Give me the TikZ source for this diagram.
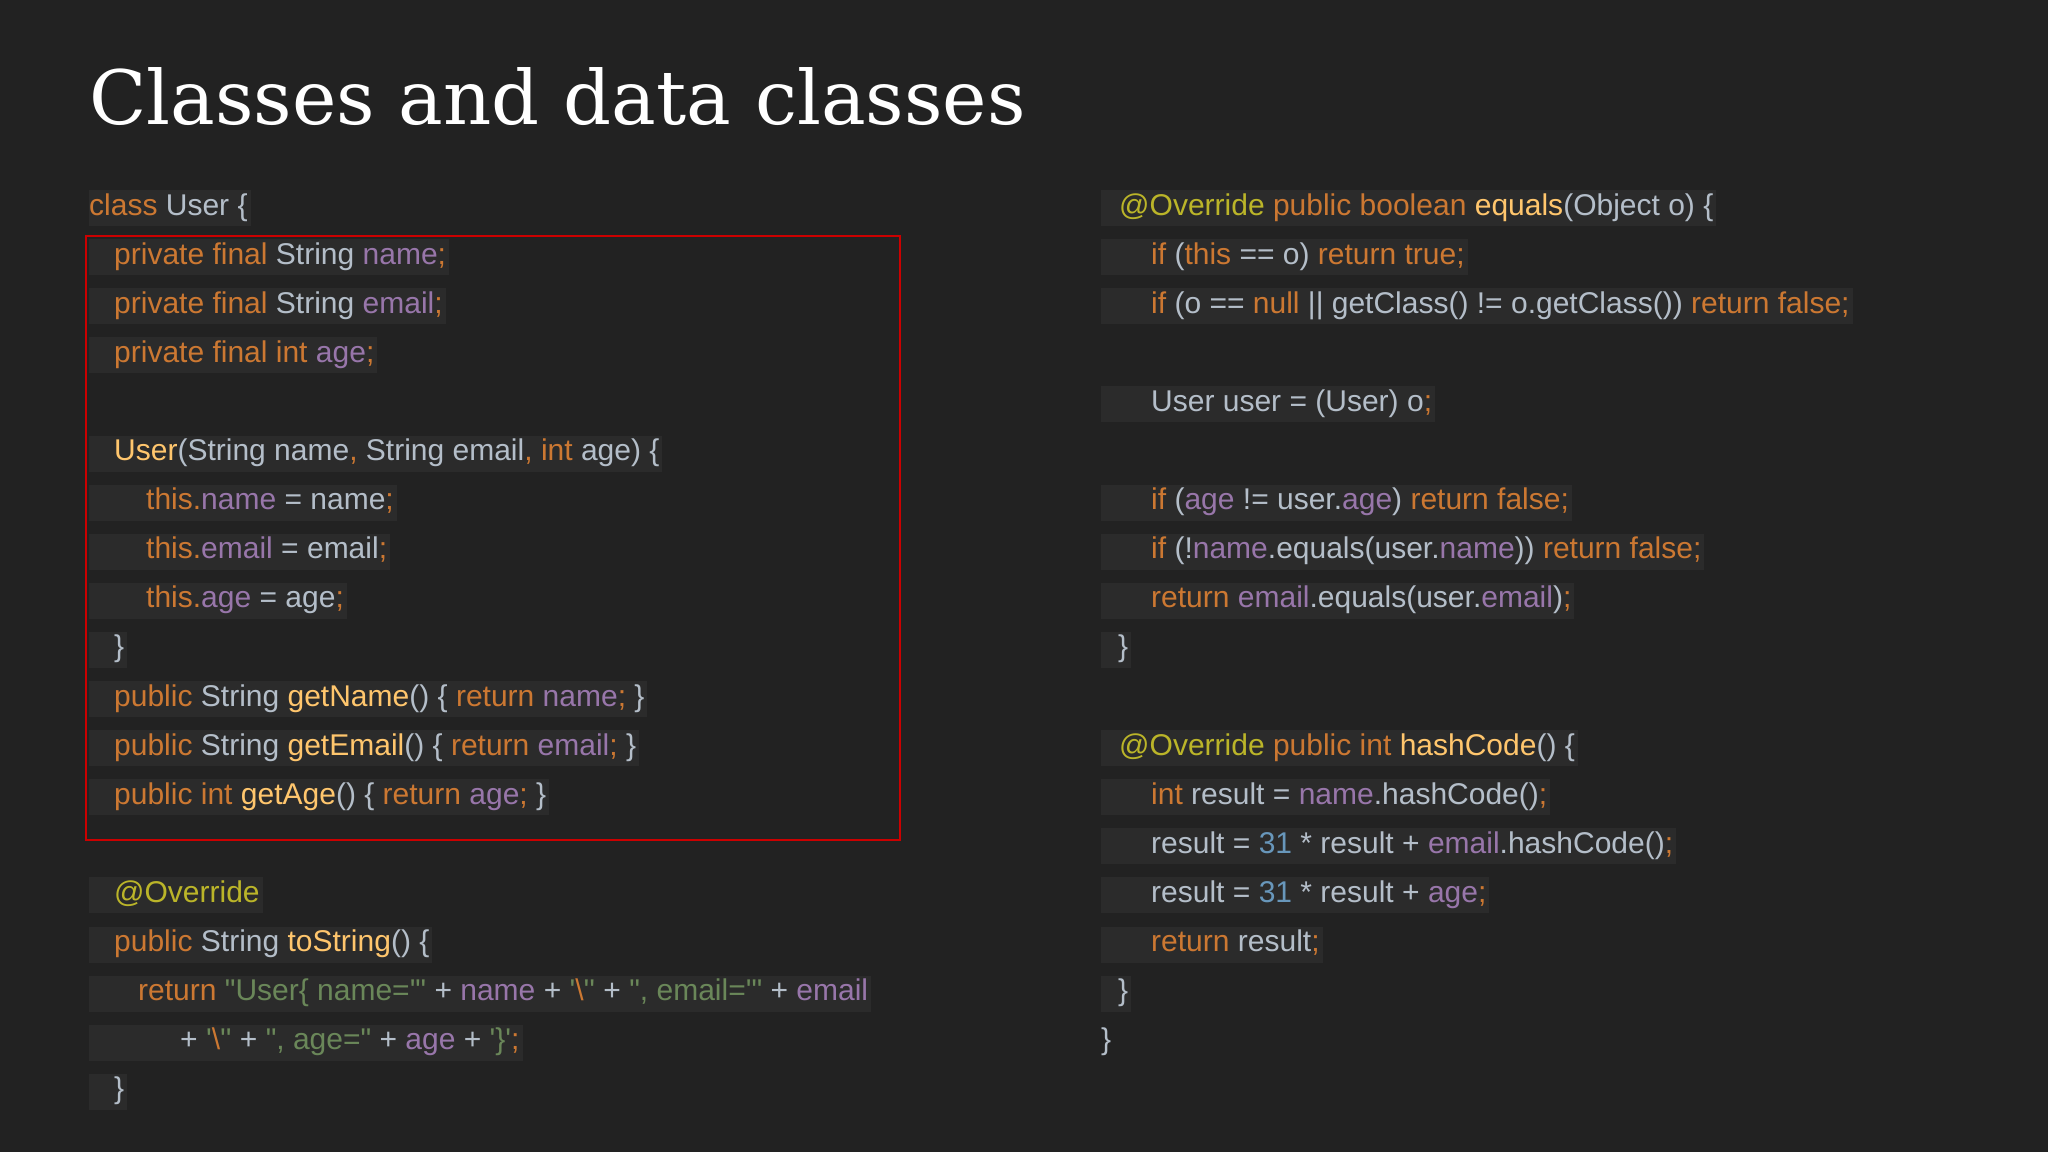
\documentclass[tikz,border=0pt]{standalone}
\usepackage{fontspec}
\newfontfamily\codefont{Liberation Sans}
\newfontfamily\titlefont{DejaVu Serif}
\definecolor{bgc}{HTML}{222222}
\definecolor{linebg}{HTML}{2B2B2B}
\definecolor{ckw}{HTML}{CC7832}
\definecolor{cpu}{HTML}{9876AA}
\definecolor{cpl}{HTML}{B4BEC9}
\definecolor{cfn}{HTML}{FFC66D}
\definecolor{can}{HTML}{BBB529}
\definecolor{cst}{HTML}{6A8759}
\definecolor{cnu}{HTML}{6897BB}
\newcommand\K[1]{\textcolor{ckw}{#1}}
\newcommand\Pu[1]{\textcolor{cpu}{#1}}
\newcommand\N[1]{\textcolor{cpl}{#1}}
\newcommand\F[1]{\textcolor{cfn}{#1}}
\newcommand\A[1]{\textcolor{can}{#1}}
\newcommand\Sg[1]{\textcolor{cst}{#1}}
\newcommand\B[1]{\textcolor{cnu}{#1}}
\newcommand\codeline[5]{\node[cl] (#1) at (#2,{208+49.1*#3}) {\hspace*{#4pt}#5\hspace*{3pt}};}
\tikzset{cl/.style={anchor=west,fill=linebg,inner sep=0pt,text height=25pt,text depth=11pt,
  font=\codefont\fontsize{30}{30}\selectfont,text=cpl}}
\begin{document}
\begin{tikzpicture}[x=1pt,y=-1pt]
\fill[bgc] (0,0) rectangle (2048,1152);
\useasboundingbox (0,0) rectangle (2048,1152);
\node[anchor=base west,inner sep=0pt,text=white,font=\titlefont\fontsize{75}{75}\selectfont] (title) at (89,124) {Classes and data classes};
% left
\codeline{l0}{89}{0}{0}{\K{class} \N{User \{}}
\codeline{l1}{89}{1}{25}{\K{private final} \N{String} \Pu{name}\K{;}}
\codeline{l2}{89}{2}{25}{\K{private final} \N{String} \Pu{email}\K{;}}
\codeline{l3}{89}{3}{25}{\K{private final int} \Pu{age}\K{;}}
\codeline{l5}{89}{5}{25}{\F{User}\N{(String name}\K{,} \N{String email}\K{,} \K{int} \N{age) \{}}
\codeline{l6}{89}{6}{57}{\K{this.}\Pu{name} \N{= name}\K{;}}
\codeline{l7}{89}{7}{57}{\K{this.}\Pu{email} \N{= email}\K{;}}
\codeline{l8}{89}{8}{57}{\K{this.}\Pu{age} \N{= age}\K{;}}
\codeline{l9}{89}{9}{25}{\N{\}}}
\codeline{l10}{89}{10}{25}{\K{public} \N{String} \F{getName}\N{() \{} \K{return} \Pu{name}\K{;} \N{\}}}
\codeline{l11}{89}{11}{25}{\K{public} \N{String} \F{getEmail}\N{() \{} \K{return} \Pu{email}\K{;} \N{\}}}
\codeline{l12}{89}{12}{25}{\K{public int} \F{getAge}\N{() \{} \K{return} \Pu{age}\K{;} \N{\}}}
\codeline{l14}{89}{14}{25}{\A{@Override}}
\codeline{l15}{89}{15}{25}{\K{public} \N{String} \F{toString}\N{() \{}}
\codeline{l16}{89}{16}{49}{\K{return} \Sg{"User\{ name='"} \N{+} \Pu{name} \N{+} \Sg{'}\K{\textbackslash}\Sg{''} \N{+} \Sg{", email='"} \N{+} \Pu{email}}
\codeline{l17}{89}{17}{91}{\N{+} \Sg{'}\K{\textbackslash}\Sg{''} \N{+} \Sg{", age="} \N{+} \Pu{age} \N{+} \Sg{'\}'}\K{;}}
\codeline{l18}{89}{18}{25}{\N{\}}}
\draw[draw=red!80!black,line width=2pt] (86,236) rectangle (900,840);
% right
\codeline{r0}{1101}{0}{18}{\A{@Override} \K{public boolean} \F{equals}\N{(Object o) \{}}
\codeline{r1}{1101}{1}{50}{\K{if} \N{(}\K{this} \N{== o)} \K{return true;}}
\codeline{r2}{1101}{2}{50}{\K{if} \N{(o ==} \K{null} \N{|| getClass() != o.getClass())} \K{return false;}}
\codeline{r4}{1101}{4}{50}{\N{User user = (User) o}\K{;}}
\codeline{r6}{1101}{6}{50}{\K{if} \N{(}\Pu{age} \N{!= user.}\Pu{age}\N{)} \K{return false;}}
\codeline{r7}{1101}{7}{50}{\K{if} \N{(!}\Pu{name}\N{.equals(user.}\Pu{name}\N{))} \K{return false;}}
\codeline{r8}{1101}{8}{50}{\K{return} \Pu{email}\N{.equals(user.}\Pu{email}\N{)}\K{;}}
\codeline{r9}{1101}{9}{17}{\N{\}}}
\codeline{r11}{1101}{11}{18}{\A{@Override} \K{public int} \F{hashCode}\N{() \{}}
\codeline{r12}{1101}{12}{50}{\K{int} \N{result =} \Pu{name}\N{.hashCode()}\K{;}}
\codeline{r13}{1101}{13}{50}{\N{result =} \B{31} \N{* result +} \Pu{email}\N{.hashCode()}\K{;}}
\codeline{r14}{1101}{14}{50}{\N{result =} \B{31} \N{* result +} \Pu{age}\K{;}}
\codeline{r15}{1101}{15}{50}{\K{return} \N{result}\K{;}}
\codeline{r16}{1101}{16}{17}{\N{\}}}
\node[cl,fill=none] (r17) at (1101,{208+49.1*17}) {\N{\}}};
\end{tikzpicture}
\end{document}
